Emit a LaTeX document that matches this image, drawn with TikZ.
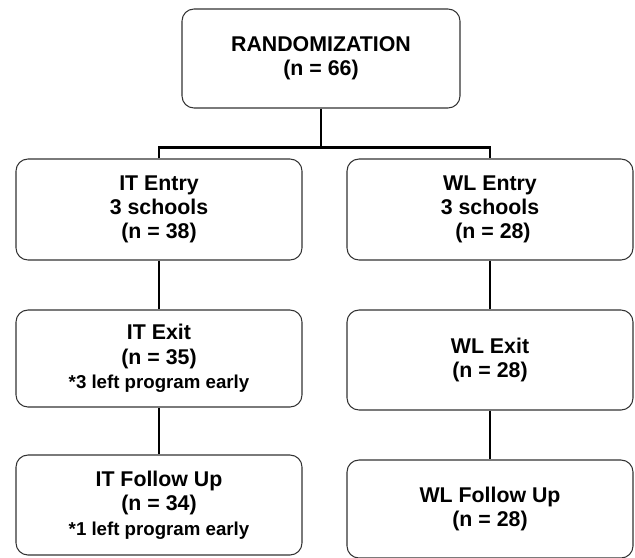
\documentclass[tikz,border=0pt]{standalone}
\usepackage{fontspec}
\setmainfont{Liberation Sans}

% smaller line for the drop-out remarks
\newcommand{\dropnote}[1]{{\fontsize{14}{18}\selectfont #1}}

\begin{document}
\begin{tikzpicture}[x=0.75pt,y=-0.75pt,
  box/.style={draw=black!80,line width=0.8pt,rounded corners=9pt,
    align=center,inner sep=0pt,minimum width=214.5pt,
    font=\fontsize{16}{18.2}\selectfont\bfseries},
  link/.style={line width=2pt,line join=miter}]

\useasboundingbox (0,0) rectangle (635,557);

% top of the tree
\node[box,minimum width=208.5pt,minimum height=74.25pt] (rand) at (321,58.5)
  {RANDOMIZATION\\(n = 66)};

% left branch
\node[box,minimum height=75.75pt] (itentry) at (159,209.5)
  {IT Entry\\3 schools\\(n = 38)};
\node[box,minimum height=72.75pt] (itexit) at (159,358.5)
  {IT Exit\\(n = 35)\\\dropnote{*3 left program early}};
\node[box,minimum height=75pt] (itfollow) at (159,505)
  {IT Follow Up\\(n = 34)\\\dropnote{*1 left program early}};

% right branch
\node[box,minimum height=75.75pt] (wlentry) at (490,209.5)
  {WL Entry\\3 schools\\\ (n = 28)};
\node[box,minimum height=75pt] (wlexit) at (490,360)
  {WL Exit\\(n = 28)};
\node[box,minimum height=73.5pt] (wlfollow) at (490,509)
  {WL Follow Up\\(n = 28)};

% connectors
\draw[link] (rand.south) -- ++(0,39) coordinate (split);
\draw[link] (itentry.north) |- (split) -| (wlentry.north);
\draw[link] (itentry.south) -- (itexit.north);
\draw[link] (itexit.south) -- (itfollow.north);
\draw[link] (wlentry.south) -- (wlexit.north);
\draw[link] (wlexit.south) -- (wlfollow.north);
\end{tikzpicture}
\end{document}
